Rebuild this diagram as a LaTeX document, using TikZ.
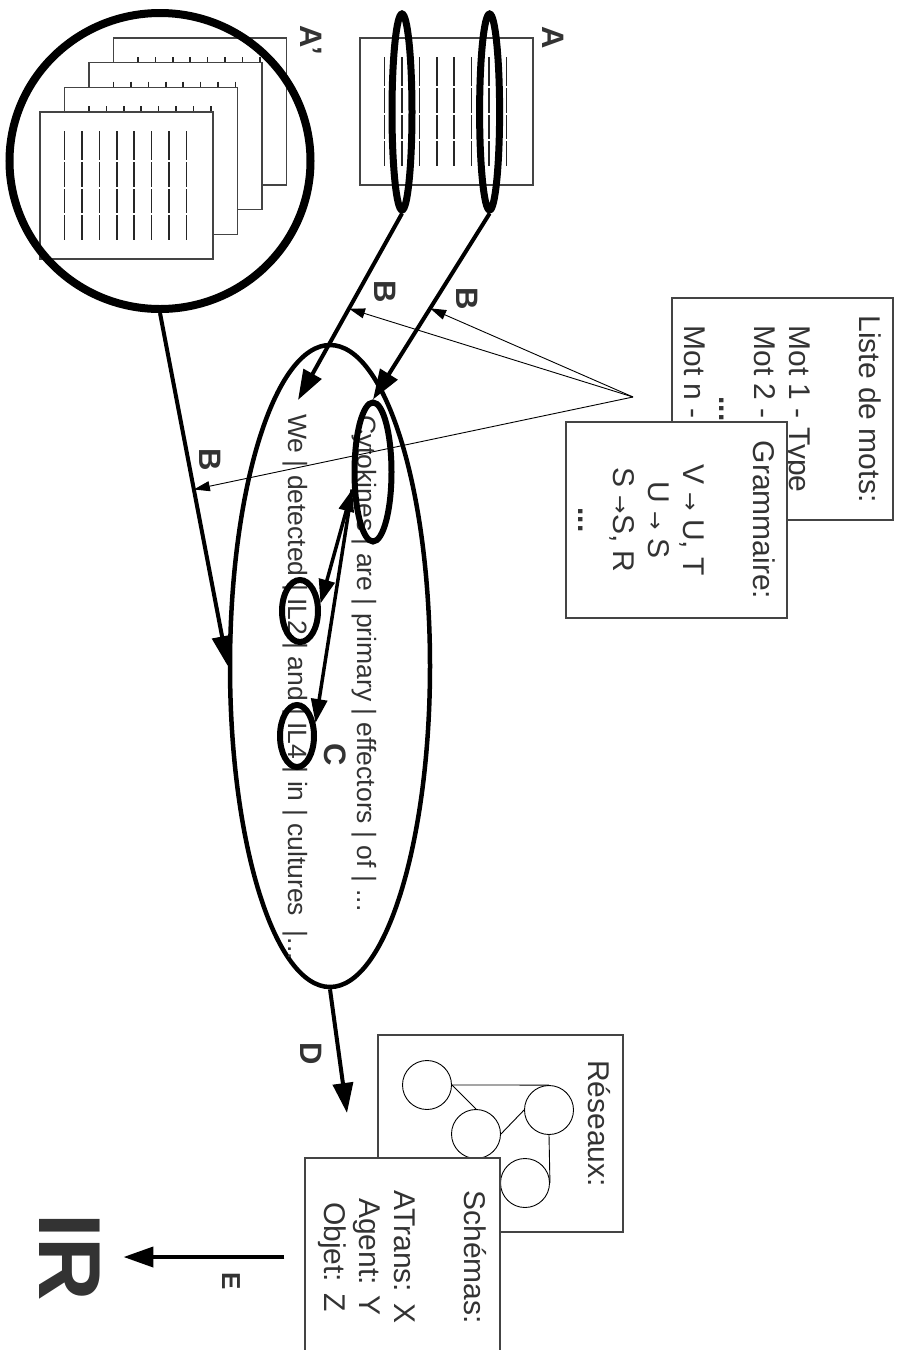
\documentclass[tikz,border=0pt]{standalone}
\usepackage{fontspec}
\setmainfont{Liberation Sans}
\newfontfamily\arrowfont{DejaVu Sans}
\usetikzlibrary{shapes.geometric,arrows.meta,calc}
\definecolor{txt}{HTML}{333333}
\definecolor{frm}{HTML}{444444}
\tikzset{
  pageframe/.style={draw=frm, fill=white, line width=1.1pt},
  pageline/.style={draw=black!85, line width=1.6pt},
  ring/.style={ellipse, draw=black, inner sep=0pt},
  thickarrow/.style={draw=black, line width=4pt, -{Triangle[length=30pt,width=20pt]}},
  midarrow/.style={draw=black, line width=3.5pt, -{Triangle[length=24pt,width=16pt]}},
  thinarrow/.style={draw=black, line width=0.9pt, -{Triangle[length=16pt,width=10pt]}},
  lbl/.style={font=\bfseries\fontsize{31}{31}\selectfont, text=txt, rotate=-90, inner sep=0pt},
  sentence/.style={font=\fontsize{26.5}{30}\selectfont, text=txt, rotate=-90, inner sep=0pt, anchor=base west},
  card/.style={draw=frm, fill=white, line width=1.2pt, inner sep=0pt, rotate=-90, font=\fontsize{30}{35}\selectfont, text=txt, align=center},
  netnode/.style={circle, draw=black, line width=0.9pt, minimum size=49pt, inner sep=0pt},
  netedge/.style={draw=black, line width=0.9pt},
}
\newcommand\rarr{{\arrowfont\fontsize{22}{22}\selectfont →}}
\newcommand\pagedoc[2]{%
  \draw[pageframe] (#1,#2) rectangle ++(173,147);
  \foreach \ii in {0,...,7}{
    \foreach \ya/\yb in {19/48,50/75,77/101,103/128}{
      \draw[pageline] ({#1+24.5+17.4*\ii},{#2+\ya}) -- ({#1+24.5+17.4*\ii},{#2+\yb});
    }
  }%
}
\begin{document}
\begin{tikzpicture}[x=1pt,y=-1pt]
\useasboundingbox (0,0) rectangle (898,1350);
\clip (0,0) rectangle (898,1350);
\fill[white] (0,0) rectangle (898,1350);

% documents
\pagedoc{360}{38}
\pagedoc{113.5}{38}
\pagedoc{89}{62.7}
\pagedoc{64.5}{87.3}
\pagedoc{40}{112}

\node[ring, line width=8pt, minimum width=301pt, minimum height=296pt] (bigC) at (160,161) {};
\node[ring, line width=7pt, minimum width=20pt, minimum height=196pt] (eA1) at (402,112) {};
\node[ring, line width=7pt, minimum width=20pt, minimum height=196pt] (eA2) at (489.6,112) {};
\node[lbl] (labA) at (553,38) {A};
\node[lbl] (labAp) at (311,40) {A'};

% word list and grammar cards
\node[card, minimum width=222pt, minimum height=221pt] (lst) at (782.5,409)
  {Liste de mots:\\[35pt] Mot 1 - Type\\ Mot 2 -\hphantom{ Type}\\ \textbf{...}\\ Mot n -\hphantom{ Type}};
\node[card, minimum width=196pt, minimum height=221pt] (gram) at (676.5,520)
  {Grammaire:\\[35pt] V \rarr{} U, T\\ U \rarr{} S\\ S \rarr{}S, R\\ \textbf{...}};

% sentence ellipse
\node[ring, line width=4.5pt, minimum width=200pt, minimum height=642pt] (mainE) at (330,666) {};
\node[sentence] (s1) at (357.5,415) {Cytokines | are | primary | effectors | of | ...};
\node[sentence] (s2) at (288,414) {We | detected | IL2 | and | IL4 | in | cultures\ \ |...};
\node[ring, line width=6pt, minimum width=37pt, minimum height=139pt] (cyto) at (373,472) {};
\node[ring, line width=6pt, minimum width=36pt, minimum height=62pt] (il2) at (300,611) {};
\node[ring, line width=6pt, minimum width=34pt, minimum height=62pt] (il4) at (297,736) {};

\coordinate (weTop) at (298,400);
\draw[thickarrow] (eA1.south) -- (weTop);
\draw[thickarrow] (eA2.south) -- (cyto.north);
\draw[thickarrow] (bigC.south) -- (mainE.west);
\draw[midarrow, {Triangle[length=22pt,width=15pt]}-{Triangle[length=24pt,width=16pt]}] (cyto.220) -- (il2.20);
\draw[midarrow] (cyto.220) -- (il4.35);

\coordinate (P) at (633,397);
\coordinate (b1) at ($(eA1.south)!0.51!(weTop)$);
\coordinate (b2) at ($(eA2.south)!0.51!(cyto.north)$);
\coordinate (b3) at ($(bigC.south)!0.5!(mainE.west)$);
\draw[thinarrow] (P) -- (b1);
\draw[thinarrow] (P) -- (b2);
\draw[thinarrow] (P) -- (b3);

\node[lbl] (labB1) at (385,292) {B};
\node[lbl] (labB2) at (467,299) {B};
\node[lbl] (labB3) at (210,460) {B};
\node[lbl] (labC) at (335,755) {C};

% D
\coordinate (dEnd) at (347,1113);
\draw[thickarrow] (mainE.south) -- (dEnd);
\node[lbl] (labD) at (311,1054) {D};

% networks card
\node[draw=frm, fill=white, line width=1.2pt, minimum width=245pt, minimum height=197pt, inner sep=0pt] (res) at (500.5,1133.5) {};
\node[sentence, font=\fontsize{30}{35}\selectfont] (resLbl) at (588,1060) {Réseaux:};
\node[netnode] (r1) at (427,1085) {};
\node[netnode] (r2) at (476,1134) {};
\node[netnode] (r3) at (549,1110) {};
\node[netnode] (r4) at (525,1183) {};
\draw[netedge] (r1.east) -- (r3.north);
\draw[netedge] (r1.east) -- (r2.north);
\draw[netedge] (r2.east) -- (r3.west);
\draw[netedge] (r3.south) -- (r4.east);

% schemas card
\node[card, minimum width=198pt, minimum height=195pt] (sch) at (402.5,1257)
  {Schémas:\\[35pt] ATrans: X\\ Agent: Y\\ Objet: Z};
\node[lbl, font=\bfseries\fontsize{88}{88}\selectfont] (ir) at (70,1257) {IR};
\draw[thickarrow, shorten <=20pt, shorten >=23pt] (sch.south) -- (ir.north);
\node[lbl, font=\bfseries\fontsize{26}{26}\selectfont] (labE) at (231,1281) {E};
\end{tikzpicture}
\end{document}
